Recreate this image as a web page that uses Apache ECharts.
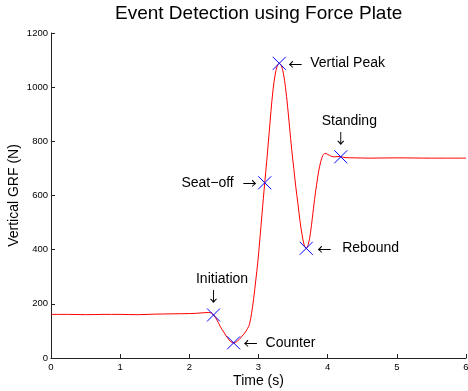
<!DOCTYPE html>
<html>
<head>
<meta charset="utf-8">
<script src="https://cdn.jsdelivr.net/npm/echarts@6/dist/echarts.min.js"></script>
<style>html,body{margin:0;padding:0;background:#fff}#c{width:468px;height:391px}</style>
</head>
<body>
<div id="c"></div>
<script>
// ---- data ----
const times = [0, 0.25, 0.5, 0.75, 1.0, 1.25, 1.5, 1.75, 2.0, 2.1, 2.2, 2.28, 2.32, 2.35, 2.4, 2.45, 2.5, 2.55, 2.6, 2.64, 2.68, 2.72, 2.76, 2.8, 2.84, 2.87, 2.9, 2.93, 2.96, 2.99, 3.02, 3.05, 3.09, 3.12, 3.15, 3.18, 3.21, 3.24, 3.27, 3.3, 3.33, 3.36, 3.39, 3.42, 3.45, 3.48, 3.51, 3.54, 3.57, 3.6, 3.63, 3.66, 3.69, 3.72, 3.75, 3.78, 3.81, 3.84, 3.87, 3.9, 3.93, 3.96, 4.0, 4.05, 4.1, 4.15, 4.19, 4.25, 4.4, 4.6, 5.0, 5.5, 6.0];
const grf   = [161, 161, 160, 161, 161, 160, 162, 163, 164, 165, 167, 168, 166, 159, 140, 115, 95, 75, 60, 56, 60, 68, 80, 92, 108, 125, 165, 220, 285, 355, 440, 530, 647, 730, 820, 910, 990, 1045, 1078, 1088, 1080, 1050, 1000, 930, 850, 770, 700, 630, 570, 505, 455, 418, 405, 420, 460, 520, 585, 640, 690, 725, 748, 755, 752, 745, 743, 744, 743, 740, 739, 738, 739, 738, 738];

const eventNames  = ['Initiation', 'Counter', 'Seat\u2212off', 'Vertial Peak', 'Rebound', 'Standing'];
const eventTimes  = [2.35, 2.64, 3.09, 3.30, 3.69, 4.19];
const eventValues = [159, 56, 647, 1088, 405, 743];

const xTicks = { min: 0, max: 6, interval: 1 };
const yTicks = { min: 0, max: 1200, interval: 200 };

// ---- label styling (positions relative to markers) ----
const FONT = "'Liberation Sans', Arial, Helvetica, sans-serif";
const ARROWFONT = "'Noto Sans CJK SC', 'DejaVu Sans', sans-serif";
const labelStyle = {
  'Initiation':   { position: 'top',   formatter: '{t|Initiation}\n{a|\u2193}', distance: 4 },
  'Counter':      { position: 'right', formatter: '{a|\u2190}{t|Counter}', distance: 3 },
  'Seat\u2212off':{ position: 'left',  formatter: '{t|Seat\u2212off}{b|\u2192}', distance: 1 },
  'Vertial Peak': { position: 'right', formatter: '{a|\u2190}{t|Vertial Peak}', distance: 2 },
  'Rebound':      { position: 'right', formatter: '{c|\u2190}{t|Rebound}', distance: 4 },
  'Standing':     { position: 'top',   formatter: '{t|Standing}\n{a|\u2193}', distance: 4 }
};
const richVertical = {
  t: { fontSize: 14, fontFamily: FONT, color: '#000', padding: [0, 0, 0, 17], lineHeight: 18 },
  a: { fontSize: 14, fontFamily: ARROWFONT, color: '#000', lineHeight: 16 }
};
const richHorizontal = {
  t: { fontSize: 14, fontFamily: FONT, color: '#000' },
  a: { fontSize: 14, fontFamily: ARROWFONT, color: '#000', padding: [0, 8, 0, 0] },
  c: { fontSize: 14, fontFamily: ARROWFONT, color: '#000', padding: [0, 11, 0, 0] },
  b: { fontSize: 14, fontFamily: ARROWFONT, color: '#000', padding: [0, 0, 0, 9] }
};

const lineData = times.map((t, i) => [t, grf[i]]);
const eventData = eventNames.map((n, i) => {
  const s = labelStyle[n];
  return {
    name: n,
    value: [eventTimes[i], eventValues[i]],
    label: {
      show: true,
      position: s.position,
      distance: s.distance,
      formatter: s.formatter,
      rich: s.position === 'top' ? richVertical : richHorizontal
    }
  };
});

const chart = echarts.init(document.getElementById('c'), null, { renderer: 'canvas' });
chart.setOption({
  animation: false,
  backgroundColor: '#fff',
  title: {
    text: 'Event Detection using Force Plate',
    left: 115, top: 4, padding: 0,
    textStyle: { fontFamily: FONT, fontSize: 19, fontWeight: 'normal', color: '#000' }
  },
  grid: { left: 51, right: 2, top: 33, bottom: 33, containLabel: false, outerBoundsMode: 'none' },
  xAxis: {
    type: 'value', min: xTicks.min, max: xTicks.max, interval: xTicks.interval,
    name: 'Time (s)', nameLocation: 'middle', nameGap: 16, nameMoveOverlap: false,
    nameTextStyle: { fontFamily: FONT, fontSize: 14, color: '#000' },
    axisLine: { show: true, onZero: false, lineStyle: { color: '#222', width: 1 } },
    axisTick: { show: true, inside: true, length: 4, lineStyle: { color: '#222' } },
    axisLabel: { fontFamily: FONT, fontSize: 9.5, color: '#000', margin: 4, showMaxLabel: true,
                 formatter: v => String(v) },
    splitLine: { show: false }
  },
  yAxis: {
    type: 'value', min: yTicks.min, max: yTicks.max, interval: yTicks.interval,
    name: 'Vertical GRF (N)', nameLocation: 'middle', nameGap: 30, nameMoveOverlap: false,
    nameTextStyle: { fontFamily: FONT, fontSize: 14, color: '#000' },
    axisLine: { show: true, onZero: false, lineStyle: { color: '#222', width: 1 } },
    axisTick: { show: true, inside: true, length: 4, lineStyle: { color: '#222' } },
    axisLabel: { fontFamily: FONT, fontSize: 9.5, color: '#000', margin: 3,
                 formatter: v => String(v) },
    splitLine: { show: false }
  },
  series: [
    {
      type: 'line', data: lineData, showSymbol: false, smooth: 0.35,
      lineStyle: { color: '#ff0000', width: 1 }, z: 2, silent: true
    },
    {
      type: 'scatter', data: eventData,
      symbol: 'path://M0 0L10 10M10 0L0 10', symbolSize: 13,
      itemStyle: { color: '#0000ff', borderColor: '#0000ff', borderWidth: 1, opacity: 1 },
      z: 3, silent: true
    }
  ]
});
</script>
</body>
</html>
